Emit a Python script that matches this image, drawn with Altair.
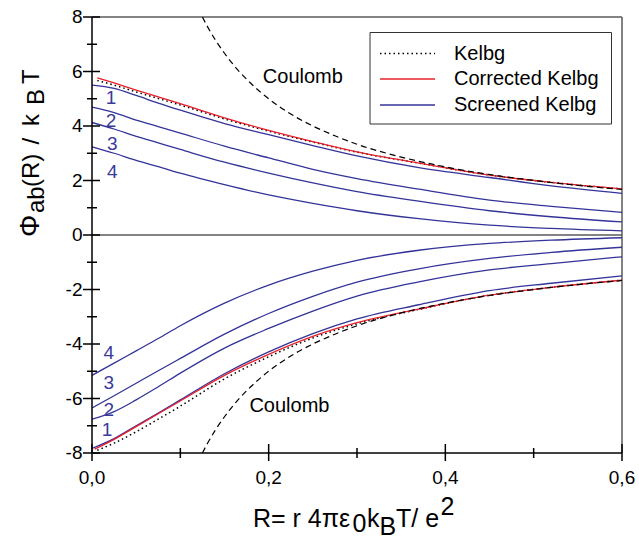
import altair as alt
import pandas as pd

# ---------------- data ----------------
R_SCR = [0.0, 0.025, 0.05, 0.075, 0.1, 0.15, 0.2, 0.25, 0.3, 0.37, 0.45, 0.52, 0.6]
R_KEL = [0.006, 0.025, 0.05, 0.075, 0.1, 0.15, 0.2, 0.25, 0.3, 0.37, 0.45, 0.52, 0.6]
R_COR_ATT = [0.003, 0.025, 0.05, 0.075, 0.1, 0.15, 0.2, 0.25, 0.3, 0.37, 0.45, 0.52, 0.6]

scr1_rep = [5.50, 5.38, 5.12, 4.84, 4.58, 4.09, 3.68, 3.28, 2.90, 2.47, 2.11, 1.80, 1.53]
scr2_rep = [4.69, 4.49, 4.22, 3.98, 3.74, 3.26, 2.83, 2.41, 2.07, 1.68, 1.28, 1.05, 0.83]
scr3_rep = [4.13, 3.89, 3.62, 3.38, 3.14, 2.67, 2.27, 1.91, 1.59, 1.24, 0.89, 0.67, 0.48]
scr4_rep = [3.24, 3.00, 2.74, 2.51, 2.27, 1.85, 1.47, 1.16, 0.89, 0.60, 0.36, 0.24, 0.15]

scr1_att = [-7.83, -7.47, -7.00, -6.53, -6.05, -5.09, -4.29, -3.62, -3.08, -2.56, -2.04, -1.77, -1.50]
scr2_att = [-6.76, -6.48, -6.05, -5.57, -5.07, -4.15, -3.43, -2.79, -2.24, -1.72, -1.28, -1.05, -0.80]
scr3_att = [-6.35, -5.90, -5.44, -4.98, -4.53, -3.64, -2.88, -2.25, -1.73, -1.24, -0.86, -0.64, -0.45]
scr4_att = [-5.15, -4.70, -4.25, -3.80, -3.33, -2.50, -1.84, -1.33, -0.93, -0.56, -0.31, -0.19, -0.10]

corr_rep = [5.77, 5.58, 5.32, 5.07, 4.82, 4.30, 3.84, 3.43, 3.05, 2.64, 2.20, 1.93, 1.69]
corr_att = [-7.86, -7.50, -7.03, -6.56, -6.09, -5.15, -4.38, -3.72, -3.22, -2.72, -2.21, -1.92, -1.66]
kelbg_rep = [5.67, 5.50, 5.25, 5.01, 4.77, 4.26, 3.81, 3.41, 3.04, 2.64, 2.20, 1.93, 1.69]
kelbg_att = [-7.90, -7.64, -7.22, -6.76, -6.28, -5.28, -4.47, -3.78, -3.26, -2.73, -2.21, -1.92, -1.66]

R_COUL = [0.125, 0.13, 0.14, 0.15, 0.165, 0.18, 0.2, 0.225, 0.25, 0.275, 0.3, 0.35, 0.4, 0.45, 0.5, 0.55, 0.6]
coul_rep = [8.0, 7.69, 7.14, 6.67, 6.06, 5.56, 5.0, 4.44, 4.0, 3.64, 3.33, 2.86, 2.5, 2.22, 2.0, 1.82, 1.67]
coul_att = [-8.0, -7.69, -7.14, -6.67, -6.06, -5.56, -5.0, -4.44, -4.0, -3.64, -3.33, -2.86, -2.5, -2.22, -2.0, -1.82, -1.67]

num_labels = ["1", "2", "3", "4", "1", "2", "3", "4"]
num_label_R = [0.0215, 0.0215, 0.023, 0.023, 0.017, 0.019, 0.019, 0.019]
num_label_phi = [5.02, 4.19, 3.34, 2.32, -7.16, -6.42, -5.44, -4.34]

coul_labels = ["Coulomb", "Coulomb"]
coul_label_R = [0.2387, 0.2235]
coul_label_phi = [5.8, -6.29]

x_ticks_major = [0.0, 0.2, 0.4, 0.6]
x_tick_labels = ["0,0", "0,2", "0,4", "0,6"]
x_ticks_minor = [0.1, 0.3, 0.5]
y_ticks_major = [-8, -6, -4, -2, 0, 2, 4, 6, 8]
y_tick_labels = ["-8", "-6", "-4", "-2", "0", "2", "4", "6", "8"]
y_ticks_minor = [-7, -5, -3, -1, 1, 3, 5, 7]

legend_names = ["Kelbg", "Corrected Kelbg", "Screened Kelbg"]

# ---------------- tables ----------------
def curves(rs, ys, name):
    return pd.DataFrame({"R": rs, "phi": ys, "curve": name})

df_scr = pd.concat([
    curves(R_SCR, scr1_rep, "s1r"), curves(R_SCR, scr2_rep, "s2r"),
    curves(R_SCR, scr3_rep, "s3r"), curves(R_SCR, scr4_rep, "s4r"),
    curves(R_SCR, scr1_att, "s1a"), curves(R_SCR, scr2_att, "s2a"),
    curves(R_SCR, scr3_att, "s3a"), curves(R_SCR, scr4_att, "s4a"),
])
df_kel = pd.concat([curves(R_KEL, kelbg_rep, "kr"), curves(R_KEL, kelbg_att, "ka")])
df_cor = pd.concat([curves(R_KEL, corr_rep, "cr"), curves(R_COR_ATT, corr_att, "ca")])
df_coul = pd.concat([curves(R_COUL, coul_rep, "qr"), curves(R_COUL, coul_att, "qa")])

W, H = 530, 436
FONT = "Liberation Sans"
BLUE = "#333399"
RED = "#e8202a"
GREY = "#5a5a5a"

xs = alt.Scale(domain=[0, 0.6], nice=False, zero=False)
ys = alt.Scale(domain=[-8, 8], nice=False, zero=False)
X = lambda: alt.X("R:Q", scale=xs, axis=None)
Y = lambda: alt.Y("phi:Q", scale=ys, axis=None)


def line_layer(df, color, width, dash=None):
    kw = dict(color=color, strokeWidth=width, interpolate="monotone", clip=True)
    if dash is not None:
        kw["strokeDash"] = dash
    return alt.Chart(df).mark_line(**kw).encode(x=X(), y=Y(), detail="curve:N")


one = pd.DataFrame({"a": [0]})

# frame, axes lines, zero line
frame_top = alt.Chart(one).mark_rule(color=GREY, strokeWidth=1.5).encode(
    x=alt.value(0), x2=alt.value(W), y=alt.value(0))
frame_right = alt.Chart(one).mark_rule(color=GREY, strokeWidth=1.5).encode(
    x=alt.value(W), y=alt.value(0), y2=alt.value(H))
zero_line = alt.Chart(pd.DataFrame({"phi": [0]})).mark_rule(color=GREY, strokeWidth=1.5).encode(
    x=alt.value(0), x2=alt.value(W), y=Y())
left_dom = alt.Chart(one).mark_rule(color="black", strokeWidth=1.5).encode(
    x=alt.value(0), y=alt.value(0), y2=alt.value(H))
bottom_dom = alt.Chart(one).mark_rule(color="black", strokeWidth=1.5).encode(
    x=alt.value(0), x2=alt.value(W), y=alt.value(H))

# crossing ticks
yt_major = alt.Chart(pd.DataFrame({"phi": y_ticks_major})).mark_rule(color="black", strokeWidth=1.5).encode(
    x=alt.value(-9), x2=alt.value(8), y=Y())
yt_minor = alt.Chart(pd.DataFrame({"phi": y_ticks_minor})).mark_rule(color="black", strokeWidth=1.5).encode(
    x=alt.value(-5), x2=alt.value(5), y=Y())
xt_major = alt.Chart(pd.DataFrame({"R": x_ticks_major})).mark_rule(color="black", strokeWidth=1.5).encode(
    x=X(), y=alt.value(H - 9), y2=alt.value(H + 8))
xt_minor = alt.Chart(pd.DataFrame({"R": x_ticks_minor})).mark_rule(color="black", strokeWidth=1.5).encode(
    x=X(), y=alt.value(H - 5), y2=alt.value(H + 5))

# tick labels
xlab = alt.Chart(pd.DataFrame({"R": x_ticks_major, "t": x_tick_labels})).mark_text(
    font=FONT, fontSize=19, align="center", baseline="top", color="black").encode(
    x=X(), y=alt.value(H + 15.5), text="t:N")
ylab = alt.Chart(pd.DataFrame({"phi": y_ticks_major, "t": y_tick_labels})).mark_text(
    font=FONT, fontSize=19, align="right", baseline="middle", color="black").encode(
    x=alt.value(-9.5), y=Y(), text="t:N")

scr = line_layer(df_scr, BLUE, 1.3)
kel = line_layer(df_kel, "black", 1.5, [1.5, 3])
cor = line_layer(df_cor, RED, 1.3)
coul = line_layer(df_coul, "black", 1.2, [6, 4])

num_df = pd.DataFrame({"t": num_labels, "R": num_label_R, "phi": num_label_phi})
nums = alt.Chart(num_df).mark_text(font=FONT, fontSize=19, color="#3a3a9a",
                                   align="center", baseline="middle").encode(
    x=X(), y=Y(), text="t:N")

coul_df = pd.DataFrame({"t": coul_labels, "R": coul_label_R, "phi": coul_label_phi})
coul_txt = alt.Chart(coul_df).mark_text(font=FONT, fontSize=20, color="black",
                                        align="center", baseline="middle").encode(
    x=X(), y=Y(), text="t:N")


def txt(text, x, y, size, angle=0, baseline="alphabetic", align="left", color="black"):
    return alt.Chart(pd.DataFrame({"t": [text]})).mark_text(
        font=FONT, fontSize=size, angle=angle, align=align, baseline=baseline, color=color
    ).encode(x=alt.value(x), y=alt.value(y), text="t:N")


# legend (drawn by hand)
leg_box = alt.Chart(one).mark_rect(fill="white", stroke="#333333", strokeWidth=1).encode(
    x=alt.value(278), x2=alt.value(519.5), y=alt.value(15.5), y2=alt.value(107))
leg_rows_y = [36.5, 62, 88]
leg_k = alt.Chart(one).mark_rule(color="black", strokeWidth=1.5, strokeDash=[1.5, 3]).encode(
    x=alt.value(288), x2=alt.value(343), y=alt.value(leg_rows_y[0]))
leg_c = alt.Chart(one).mark_rule(color=RED, strokeWidth=1.3).encode(
    x=alt.value(288), x2=alt.value(343), y=alt.value(leg_rows_y[1]))
leg_s = alt.Chart(one).mark_rule(color=BLUE, strokeWidth=1.3).encode(
    x=alt.value(288), x2=alt.value(343), y=alt.value(leg_rows_y[2]))
leg_t = [txt(n, 362, yy, 20, baseline="middle") for n, yy in zip(legend_names, leg_rows_y)]

# x title pieces: R= r 4πε0 kB T/ e2
xt = [
    txt("R= r 4πε", 161, 510, 25),
    txt("0", 260.5, 515, 25),
    txt("k", 275, 510, 25),
    txt("B", 287.5, 518, 25),
    txt("T/ e", 304, 510, 25),
    txt("2", 348.5, 498, 25),
]
# y title pieces (rotated): Φab(R) / k BT
yt = [
    txt("Φ", -53.5, 220, 28, angle=270),
    txt("ab", -48.5, 196, 24, angle=270),
    txt("(R)", -53.5, 170, 24, angle=270),
    txt("/", -53.5, 127.5, 24, angle=270),
    txt("k", -53.5, 109, 24, angle=270),
    txt("B", -48.5, 88, 24, angle=270),
    txt("T", -53.5, 67, 24, angle=270),
]

chart = alt.layer(
    zero_line, frame_top, frame_right,
    scr, kel, cor, coul,
    left_dom, bottom_dom,
    yt_major, yt_minor, xt_major, xt_minor,
    xlab, ylab,
    nums, coul_txt,
    leg_box, leg_k, leg_c, leg_s, *leg_t,
    *xt, *yt,
).properties(
    width=W, height=H,
    autosize=alt.AutoSizeParams(type="none"),
    padding={"left": 92, "top": 17, "right": 17, "bottom": 92},
).configure_view(stroke=None)

chart.save("out.html", embed_options={"renderer": "svg", "actions": False})
